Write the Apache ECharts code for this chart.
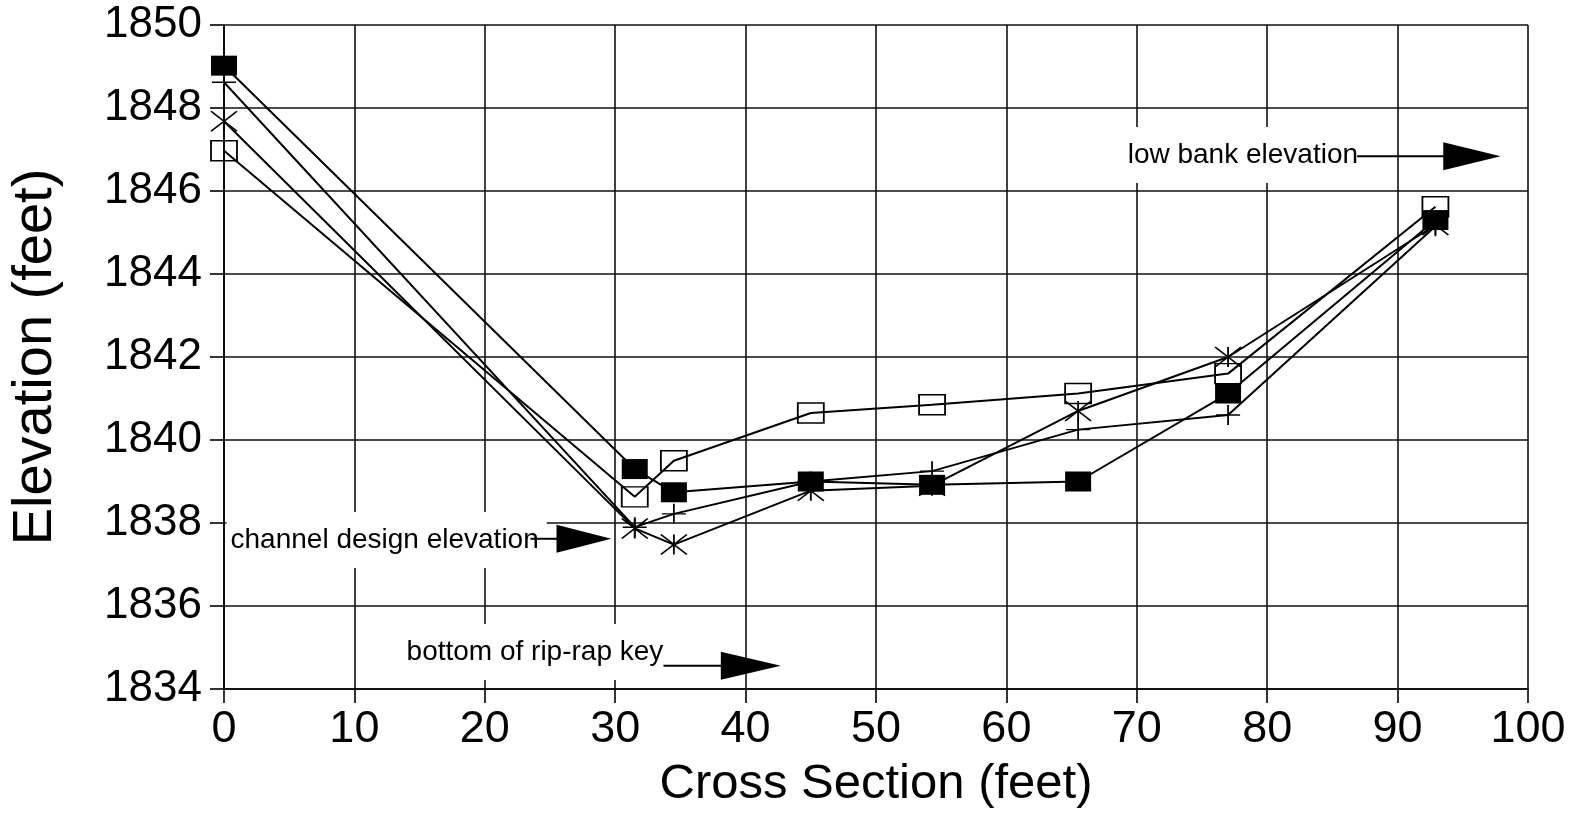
<!DOCTYPE html>
<html>
<head>
<meta charset="utf-8">
<style>
  html, body { margin: 0; padding: 0; background: #fff; }
  #chart { width: 1582px; height: 816px; }
</style>
<script src="https://cdn.jsdelivr.net/npm/echarts@6/dist/echarts.min.js"></script>
</head>
<body>
<div id="chart"></div>
<script>
// Survey stations across the channel (feet from left bank)
const stations = [0, 31.5, 34.5, 45, 54.3, 65.5, 77, 92.9];

// Surveyed bed elevations (feet) for each cross-section survey
const filledSquare = [1849.02, 1839.30, 1838.74, 1839.00, 1838.92, 1839.00, 1841.12, 1845.30];
const openSquare   = [1846.97, 1838.63, 1839.50, 1840.65, 1840.85, 1841.12, 1841.60, 1845.62];
const asterisk     = [1847.68, 1837.87, 1837.48, 1838.78, 1838.90, 1840.70, 1842.00, 1845.18];
const plusSign     = [1848.62, 1837.90, 1838.22, 1839.00, 1839.25, 1840.25, 1840.60, 1845.15];

// Axis ranges
const xMin = 0, xMax = 100, xStep = 10;
const yMin = 1834, yMax = 1850, yStep = 2;

// Reference elevation notes (text start, text level, arrow level, arrow start, head start, tip)
const noteLabels    = ['low bank elevation', 'channel design elevation', 'bottom of rip-rap key'];
const noteTextX     = [69.3, 0.5, 14.0];
const noteTextY     = [1846.87, 1837.59, 1834.89];
const noteArrowY    = [1846.84, 1837.62, 1834.56];
const noteLineStart = [86.9, 23.5, 33.7];
const noteHeadStart = [93.5, 25.5, 38.1];
const noteTip       = [97.9, 29.7, 42.7];

const FONT = '"Liberation Sans", Arial, Helvetica, sans-serif';
const PAD_LEFT = 4;

function pairs(ys) {
  return stations.map((x, i) => [x, ys[i]]);
}

const notes = noteLabels.map((t, i) => [
  noteTextX[i], noteTextY[i], noteArrowY[i], noteLineStart[i], noteHeadStart[i], noteTip[i]
]);

const chart = echarts.init(document.getElementById('chart'), null, { renderer: 'canvas' });

const lineStyle = { color: '#000', width: 2 };

const option = {
  backgroundColor: '#fff',
  animation: false,
  grid: { left: 220, right: 54, top: 25, bottom: 127, containLabel: false },
  xAxis: {
    type: 'value', min: xMin, max: xMax, interval: xStep,
    name: 'Cross Section (feet)', nameLocation: 'middle', nameGap: 71,
    nameTextStyle: { fontFamily: FONT, fontSize: 49, color: '#000' },
    axisLine: { show: true, lineStyle: { color: '#000', width: 1.6 } },
    axisTick: { show: true, inside: false, length: 14, lineStyle: { color: '#000', width: 1.6 } },
    axisLabel: { fontFamily: FONT, fontSize: 45, color: '#000', margin: 18 },
    splitLine: { show: true, lineStyle: { color: '#111', width: 1.6 } }
  },
  yAxis: {
    type: 'value', min: yMin, max: yMax, interval: yStep,
    name: 'Elevation (feet)', nameLocation: 'middle', nameGap: 160,
    nameTextStyle: { fontFamily: FONT, fontSize: 56, color: '#000' },
    axisLine: { show: true, lineStyle: { color: '#000', width: 1.6 } },
    axisTick: { show: true, inside: false, length: 14, lineStyle: { color: '#000', width: 1.6 } },
    axisLabel: {
      fontFamily: FONT, fontSize: 44, color: '#000', margin: 22,
      formatter: function (v) { return String(v); }
    },
    splitLine: { show: true, lineStyle: { color: '#111', width: 1.6 } }
  },
  series: [
    {
      type: 'custom', z: 1, silent: true,
      data: notes,
      renderItem: function (params, api) {
        const i = params.dataIndex;
        const t = api.coord([api.value(0), api.value(1)]);
        const a0 = api.coord([api.value(3), api.value(2)]);
        const h0 = api.coord([api.value(4), api.value(2)]);
        const tip = api.coord([api.value(5), api.value(2)]);
        return {
          type: 'group',
          children: [
            {
              type: 'text',
              style: {
                text: noteLabels[i], x: t[0] - PAD_LEFT, y: t[1],
                font: '28px ' + FONT, fill: '#000',
                align: 'left', verticalAlign: 'middle',
                backgroundColor: '#fff', padding: [14, 8, 14, PAD_LEFT]
              }
            },
            {
              type: 'line',
              shape: { x1: a0[0], y1: a0[1], x2: h0[0] + 4, y2: h0[1] },
              style: { stroke: '#000', lineWidth: 2 }
            },
            {
              type: 'polygon',
              shape: { points: [[h0[0], h0[1] - 14], [tip[0], tip[1]], [h0[0], h0[1] + 14]] },
              style: { fill: '#000' }
            }
          ]
        };
      }
    },
    {
      name: 'open square', type: 'line', data: pairs(openSquare), z: 2,
      symbol: 'rect', symbolSize: [26, 20],
      itemStyle: { color: 'rgba(0,0,0,0)', borderColor: '#000', borderWidth: 1.6 },
      lineStyle: lineStyle
    },
    {
      name: 'asterisk', type: 'line', data: pairs(asterisk), z: 3,
      symbol: 'path://M13 0 L13 20 M0 0 L26 20 M26 0 L0 20', symbolSize: [26, 20],
      itemStyle: { color: 'rgba(0,0,0,0)', borderColor: '#000', borderWidth: 1.6 },
      lineStyle: lineStyle
    },
    {
      name: 'plus', type: 'line', data: pairs(plusSign), z: 4,
      symbol: 'path://M0 10 L24 10 M12 0 L12 20', symbolSize: [24, 20],
      itemStyle: { color: 'rgba(0,0,0,0)', borderColor: '#000', borderWidth: 1.6 },
      lineStyle: lineStyle
    },
    {
      name: 'filled square', type: 'line', data: pairs(filledSquare), z: 5,
      symbol: 'rect', symbolSize: [26, 20],
      itemStyle: { color: '#000', borderColor: '#000', borderWidth: 0 },
      lineStyle: lineStyle
    }
  ]
};

chart.setOption(option);
</script>
</body>
</html>
